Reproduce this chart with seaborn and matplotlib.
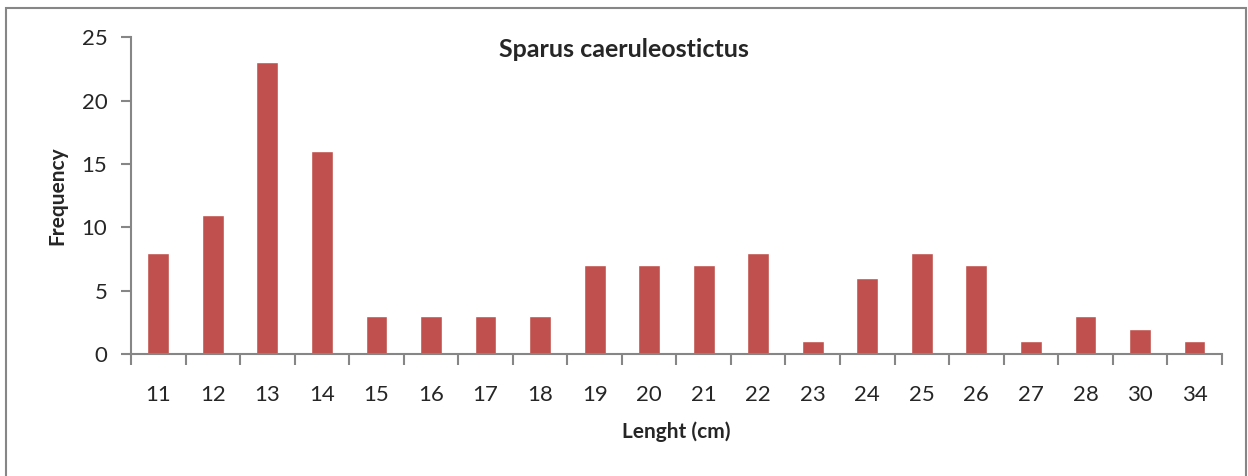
import pandas as pd
import seaborn as sns
import matplotlib
matplotlib.use("Agg")
from matplotlib import pyplot as plt
from matplotlib.patches import Rectangle

# lengths (cm) and how many fish fall in each
lengths = ["11", "12", "13", "14", "15", "16", "17", "18", "19", "20",
           "21", "22", "23", "24", "25", "26", "27", "28", "30", "34"]
counts = [8, 11, 23, 16, 3, 3, 3, 3, 7, 7, 7, 8, 1, 6, 8, 7, 1, 3, 2, 1]

df = pd.DataFrame({"Lenght": lengths, "Frequency": counts})

sns.set_style("white")
plt.rcParams["font.family"] = ["Lato", "DejaVu Sans"]

fig = plt.figure(figsize=(12.48, 4.76), dpi=100)
ax = fig.add_axes([0.105, 0.256, 0.874, 0.666])

sns.barplot(data=df, x="Lenght", y="Frequency", color="#C0504D",
            width=0.4, saturation=1, ax=ax)

grey = "#868686"
ax.set_ylim(0, 25)
ax.set_yticks([0, 5, 10, 15, 20, 25])
ax.set_xlim(-0.5, len(lengths) - 0.5)

for side in ["top", "right"]:
    ax.spines[side].set_visible(False)
for side in ["left", "bottom"]:
    ax.spines[side].set_color(grey)
    ax.spines[side].set_linewidth(1.5)

# category boundary ticks like Excel
ax.set_xticks([i - 0.5 for i in range(len(lengths) + 1)], minor=True)
ax.tick_params(axis="x", which="minor", bottom=True, length=8, width=1.5,
               color=grey, direction="out")
ax.tick_params(axis="x", which="major", bottom=True, length=0, pad=22, labelsize=16)
ax.tick_params(axis="y", which="major", length=7, width=1.5, color=grey,
               direction="out", left=True, pad=10, labelsize=16)

ax.set_xlabel("Lenght (cm)", fontsize=15, fontweight="bold", labelpad=12)
ax.set_ylabel("Frequency", fontsize=15, fontweight="bold", labelpad=10)

fig.text(0.5, 0.895, "Sparus caeruleostictus", ha="center", va="center",
         fontsize=18, fontweight="bold")

fig.patches.append(Rectangle((0.005, -0.01), 0.993, 0.993, transform=fig.transFigure,
                             fill=False, edgecolor=grey, linewidth=1.5))

fig.savefig("out.png", dpi=100)
